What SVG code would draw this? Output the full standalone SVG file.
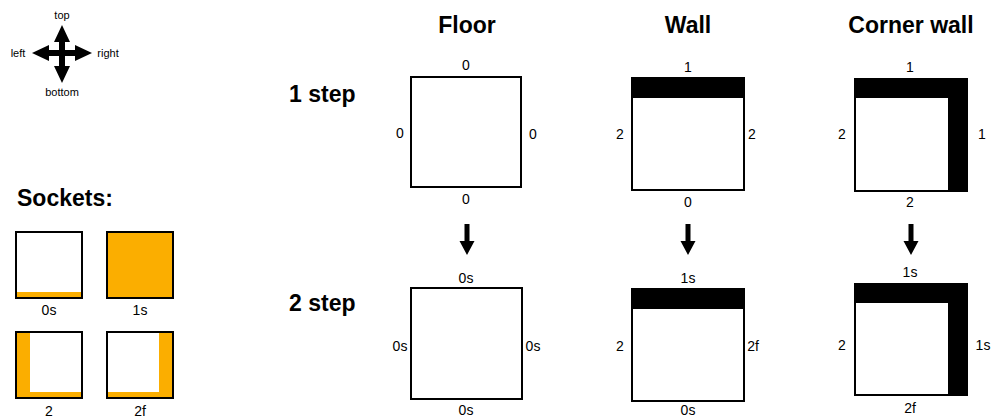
<svg xmlns="http://www.w3.org/2000/svg" width="991" height="416" viewBox="0 0 991 416">
<style>
text{font-family:"Liberation Sans",Arial,sans-serif;fill:#000}
.lbl{font-size:14px;text-anchor:middle}
.sm{font-size:11px;text-anchor:middle}
.hd{font-size:23px;font-weight:bold;text-anchor:middle}
.tile{fill:#fff;stroke:#000;stroke-width:2}
.sock{fill:#fff;stroke:#000;stroke-width:2}
.or{fill:#fbae00}
.blk{fill:#000}
</style>
<defs>
<path id="dn" d="M-2.5,0 H2.5 V17 H7.5 L0,31 L-7.5,17 H-2.5 Z"/>
</defs>
<rect width="991" height="416" fill="#fff"/>
<g id="compass">
<path class="blk" d="M62,25 L70,42 L65,42 L65,50 L75,50 L75,45 L92,53 L75,61 L75,56 L65,56 L65,66 L70,66 L62,83 L54,66 L59,66 L59,56 L49,56 L49,61 L32,53 L49,45 L49,50 L59,50 L59,42 L54,42 Z"/>
<text class="sm" x="62" y="19">top</text>
<text class="sm" x="18" y="57">left</text>
<text class="sm" x="108" y="57">right</text>
<text class="sm" x="62" y="96">bottom</text>
</g>
<g id="sockets">
<text x="17" y="206" font-size="23" font-weight="bold">Sockets:</text>
<g id="sock-0s">
<rect class="sock" x="16" y="232" width="66" height="66"/>
<rect class="or" x="17" y="292" width="64" height="5"/>
<text class="lbl" x="49" y="315">0s</text>
</g>
<g id="sock-1s">
<rect class="sock" x="107" y="232" width="66" height="66" style="fill:#fbae00"/>
<text class="lbl" x="140" y="315">1s</text>
</g>
<g id="sock-2">
<rect class="sock" x="16" y="332" width="66" height="66"/>
<path class="or" d="M17,333 H30 V392 H81 V397 H17 Z"/>
<text class="lbl" x="49" y="416">2</text>
</g>
<g id="sock-2f">
<rect class="sock" x="107" y="332" width="66" height="66"/>
<path class="or" d="M172,333 H159 V392 H108 V397 H172 Z"/>
<text class="lbl" x="140" y="416">2f</text>
</g>
</g>
<g id="headers">
<text class="hd" x="467" y="33">Floor</text>
<text class="hd" x="688" y="33">Wall</text>
<text class="hd" x="911" y="33">Corner wall</text>
<text x="289" y="102" font-size="23" font-weight="bold">1 step</text>
<text x="289" y="311" font-size="23" font-weight="bold">2 step</text>
</g>
<g id="floor-1">
<rect class="tile" x="411" y="77" width="110" height="110"/>
<text class="lbl" x="466" y="70">0</text>
<text class="lbl" x="400" y="138">0</text>
<text class="lbl" x="533" y="139">0</text>
<text class="lbl" x="466" y="204">0</text>
</g>
<g id="wall-1">
<rect class="tile" x="632" y="78" width="112" height="112"/>
<rect class="blk" x="632" y="78" width="112" height="20"/>
<text class="lbl" x="688" y="72">1</text>
<text class="lbl" x="620" y="139">2</text>
<text class="lbl" x="752" y="139">2</text>
<text class="lbl" x="688" y="207">0</text>
</g>
<g id="corner-1">
<rect class="tile" x="855" y="79" width="112" height="112"/>
<path class="blk" d="M854,78 H968 V192 H948 V98 H854 Z"/>
<text class="lbl" x="910" y="72">1</text>
<text class="lbl" x="842" y="139">2</text>
<text class="lbl" x="982" y="139">1</text>
<text class="lbl" x="910" y="207">2</text>
</g>
<g id="connectors">
<use href="#dn" x="467" y="224"/>
<use href="#dn" x="688" y="224"/>
<use href="#dn" x="911" y="224"/>
</g>
<g id="floor-2">
<rect class="tile" x="411" y="288" width="111" height="111"/>
<text class="lbl" x="466" y="283">0s</text>
<text class="lbl" x="400" y="351">0s</text>
<text class="lbl" x="533" y="351">0s</text>
<text class="lbl" x="466" y="415">0s</text>
</g>
<g id="wall-2">
<rect class="tile" x="632" y="289" width="112" height="112"/>
<rect class="blk" x="632" y="288" width="112" height="21"/>
<text class="lbl" x="688" y="283">1s</text>
<text class="lbl" x="620" y="351">2</text>
<text class="lbl" x="753" y="351">2f</text>
<text class="lbl" x="688" y="415">0s</text>
</g>
<g id="corner-2">
<rect class="tile" x="855" y="284" width="112" height="111"/>
<path class="blk" d="M854,283 H968 V396 H948 V303 H854 Z"/>
<text class="lbl" x="910" y="277">1s</text>
<text class="lbl" x="842" y="350">2</text>
<text class="lbl" x="983" y="350">1s</text>
<text class="lbl" x="910" y="413">2f</text>
</g>
</svg>
